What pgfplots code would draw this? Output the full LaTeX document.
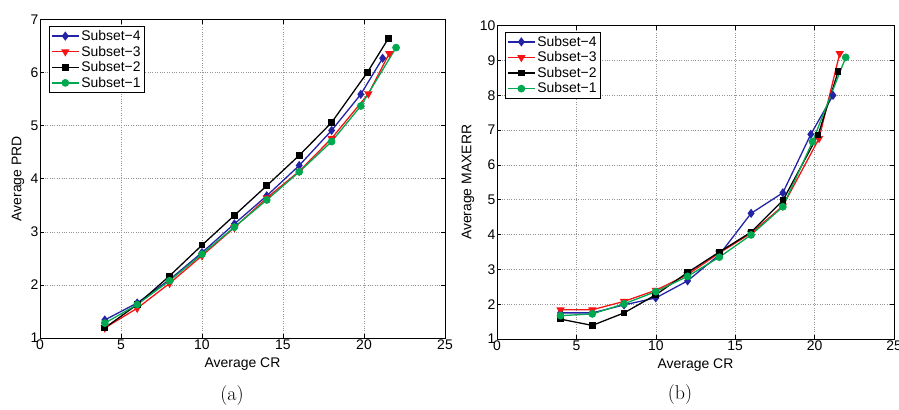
\documentclass[border=0pt]{standalone}
\usepackage{fontspec}
\setsansfont{Liberation Sans}
\usepackage{pgfplots}
\pgfplotsset{compat=1.18}
\definecolor{sblue}{RGB}{35,35,165}
\definecolor{sred}{RGB}{245,20,20}
\definecolor{sgreen}{RGB}{0,168,80}
\newcommand{\axfont}{\sffamily\fontsize{14}{16}\selectfont}
\pgfplotsset{
  myax/.style={
    scale only axis,
    xmin=0, xmax=25, xtick={0,5,...,25},
    grid=major,
    major grid style={dotted, gray!85, line width=0.6pt},
    tick align=inside, tick pos=both,
    major tick length=4bp,
    axis line style={line width=0.9pt},
    every tick/.style={black, line width=0.6pt},
    /pgf/number format/assume math mode=true,
    ticklabel style={font=\axfont, inner sep=1.5bp},
    every axis x label/.style={at={(axis description cs:0.5,0)}, anchor=center, yshift=-26bp, font=\axfont},
    legend cell align=left,
    legend style={font=\sffamily\fontsize{14}{17.5}\selectfont, anchor=north west, draw=black, line width=0.9pt, inner sep=2bp, row sep=0pt},
    legend image code/.code={\draw[mark repeat=2, mark phase=2, line width=1.3pt] plot coordinates {(0cm,0cm) (0.47cm,0cm) (0.94cm,0cm)};},
    every axis plot/.append style={line width=1.3pt},
  },
  s4/.style={sblue, mark=diamond*, mark size=3.6pt, mark options={solid}},
  s3/.style={sred, mark=triangle*, mark size=3.6pt, mark options={rotate=180}},
  s2/.style={black, mark=square*, mark size=2.7pt},
  s1/.style={sgreen, mark=*, mark size=3.2pt},
}
\begin{document}
\begin{tikzpicture}
\path[use as bounding box] (0,0) rectangle (899bp,-410bp);
% (a)
\begin{axis}[myax,
  at={(40bp,-19.5bp)}, anchor=north west,
  width=405bp, height=318.5bp,
  ymin=1, ymax=7, ytick={1,...,7},
  xlabel={Average CR}, ylabel={Average PRD},
  every axis y label/.style={at={(axis description cs:0,0.5)}, xshift=-22bp, rotate=90, anchor=center, font=\axfont},
  legend style={at={(axis description cs:0.022,0.98)}},
]
\addplot[s4] coordinates {(4,1.34) (6,1.66) (8,2.10) (10,2.61) (12,3.15) (14,3.68) (16,4.25) (18,4.91) (19.8,5.59) (21.15,6.27)};
\addplot[s3] coordinates {(4,1.19) (6,1.56) (8,2.03) (10,2.55) (12,3.08) (14,3.64) (16,4.14) (18,4.76) (20.27,5.60) (21.56,6.36)};
\addplot[s2] coordinates {(4,1.19) (6,1.63) (8,2.17) (10,2.75) (12,3.31) (14,3.87) (16,4.44) (18,5.06) (20.2,6.00) (21.5,6.64)};
\addplot[s1] coordinates {(4,1.28) (6,1.63) (8,2.08) (10,2.58) (12,3.09) (14,3.60) (16,4.13) (18,4.70) (19.8,5.37) (21.98,6.47)};
\legend{Subset−4, Subset−3, Subset−2, Subset−1}
\end{axis}
% (b)
\begin{axis}[myax,
  at={(497bp,-25.7bp)}, anchor=north west,
  width=397bp, height=313.3bp,
  ymin=1, ymax=10, ytick={1,...,10},
  xlabel={Average CR}, ylabel={Average MAXERR},
  every axis y label/.style={at={(axis description cs:0,0.5)}, xshift=-29bp, rotate=90, anchor=center, font=\axfont},
  legend style={at={(axis description cs:0.02,0.981)}},
]
\addplot[s4] coordinates {(4,1.75) (6,1.75) (8,1.98) (10,2.18) (12,2.67) (14,3.42) (16,4.61) (18,5.20) (19.76,6.88) (21.16,8.00)};
\addplot[s3] coordinates {(4,1.84) (6,1.84) (8,2.08) (10,2.40) (12,2.85) (14,3.47) (16,4.04) (18,4.82) (20.28,6.76) (21.58,9.20)};
\addplot[s2] coordinates {(4,1.57) (6,1.39) (8,1.75) (10,2.27) (12,2.91) (14,3.50) (16,4.07) (18,4.98) (20.22,6.86) (21.48,8.68)};
\addplot[s1] coordinates {(4,1.67) (6,1.72) (8,2.01) (10,2.36) (12,2.80) (14,3.35) (16,3.99) (18,4.80) (19.87,6.67) (21.96,9.09)};
\legend{Subset−4, Subset−3, Subset−2, Subset−1}
\end{axis}
\node[font=\fontsize{20}{22}\selectfont] at (232bp,-396bp) {(a)};
\node[font=\fontsize{20}{22}\selectfont] at (680bp,-395bp) {(b)};
\end{tikzpicture}
\end{document}
